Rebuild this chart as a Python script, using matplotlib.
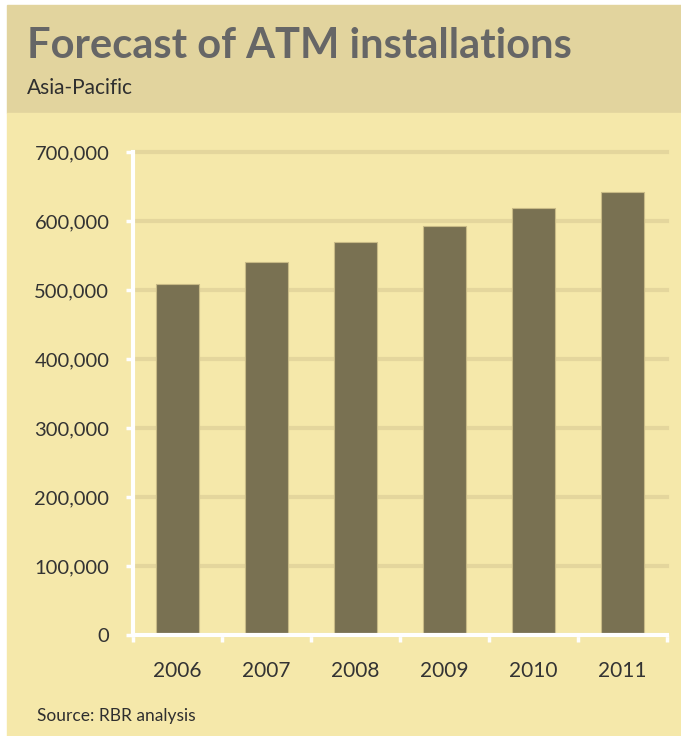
import matplotlib.pyplot as plt
from matplotlib.patches import Rectangle
from matplotlib.ticker import FuncFormatter

years = ["2006", "2007", "2008", "2009", "2010", "2011"]
installations = [509000, 540000, 570000, 593000, 619000, 642000]
y_ticks = [0, 100000, 200000, 300000, 400000, 500000, 600000, 700000]

HEADER = "#E2D49E"
BODY = "#F5E8AA"
GRID = "#E4D69D"
BAR = "#797152"


def draw():
    fig = plt.figure(figsize=(6.81, 7.36), dpi=100, facecolor="white")
    W, H = 681, 736

    # header band and chart panel, kept behind the axes
    fig.patches.append(Rectangle((7 / W, 1 - 113 / H), 1, 108 / H,
                                 transform=fig.transFigure, color=HEADER, zorder=-2))
    fig.patches.append(Rectangle((7 / W, 0), 1, 1 - 113 / H,
                                 transform=fig.transFigure, color=BODY, zorder=-2))

    fig.text(27 / W, 1 - 58 / H, "Forecast of ATM installations", fontsize=30,
             fontweight="bold", color="#666666", family="Lato")
    fig.text(27 / W, 1 - 94 / H, "Asia-Pacific", fontsize=15, color="#2f2f2f",
             family="Lato")
    fig.text(37 / W, 1 - 721 / H, "Source: RBR analysis", fontsize=12.5,
             color="#2f2f2f", family="Lato")

    ax = fig.add_axes([133 / W, 101 / H, 534 / W, 483 / H])
    ax.set_facecolor("none")
    x = range(len(years))
    ax.bar(x, installations, width=0.48, color=BAR, edgecolor="#C8BA86",
           linewidth=0.8, zorder=3)

    ax.set_xlim(-0.5, len(years) - 0.5)
    ax.set_ylim(0, 700000)
    ax.set_yticks(y_ticks)
    ax.yaxis.set_major_formatter(FuncFormatter(lambda v, p: f"{int(v):,}"))
    ax.set_xticks(list(x))
    ax.set_xticklabels(years)
    ax.set_xticks([i - 0.5 for i in range(len(years) + 1)], minor=True)

    ax.yaxis.grid(True, color=GRID, linewidth=3, zorder=1)
    for gl in ax.get_ygridlines():
        gl.set_clip_on(False)

    for side in ["top", "right"]:
        ax.spines[side].set_visible(False)
    for side in ["left", "bottom"]:
        ax.spines[side].set_color("white")
        ax.spines[side].set_linewidth(3)
        ax.spines[side].set_zorder(4)

    ax.tick_params(axis="y", colors="white", length=5, width=2.5, pad=12,
                   labelcolor="#333333", labelsize=14.5)
    ax.tick_params(axis="x", which="major", length=0, pad=19,
                   labelcolor="#333333", labelsize=15)
    ax.tick_params(axis="x", which="minor", colors="white", length=5, width=2.5)
    for lbl in ax.get_xticklabels() + ax.get_yticklabels():
        lbl.set_family("Lato")

    plt.savefig("out.png", dpi=100, facecolor=fig.get_facecolor())


def main():
    draw()


if __name__ == "__main__":
    main()
